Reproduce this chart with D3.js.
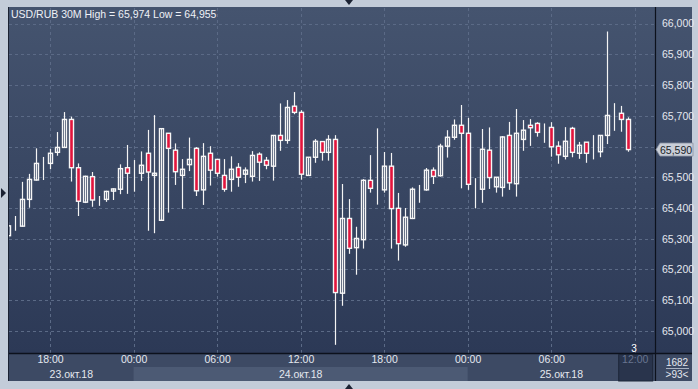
<!DOCTYPE html>
<html>
<head>
<meta charset="utf-8">
<script src="https://cdnjs.cloudflare.com/ajax/libs/d3/7.8.5/d3.min.js"></script>
<style>
  html, body { margin: 0; padding: 0; background: #c3ccd9; }
  svg { display: block; font-family: "Liberation Sans", Arial, sans-serif; }
</style>
</head>
<body>
<svg id="chart" width="698" height="389"></svg>
<script>
// USD/RUB 30M candles, 23.10.2018 15:00 .. 25.10.2018 11:30
const opens = [
  65.310, 65.347, 65.341, 65.428, 65.491, 65.545, 65.545, 65.581, 65.597, 65.688,
  65.531, 65.419, 65.502, 65.428, 65.428, 65.455, 65.461, 65.531, 65.525, 65.513,
  65.578, 65.506, 65.360, 65.643, 65.588, 65.506, 65.541, 65.594, 65.459, 65.578,
  65.558, 65.506, 65.493, 65.532, 65.510, 65.503, 65.575, 65.555, 65.536, 65.636,
  65.620, 65.731, 65.711, 65.506, 65.565, 65.616, 65.581, 65.623, 65.123, 65.366,
  65.271, 65.297, 65.490, 65.462, 65.459, 65.536, 65.399, 65.280, 65.366, 65.461,
  65.459, 65.523, 65.505, 65.601, 65.630, 65.669, 65.643, 65.459, 65.461, 65.588,
  65.469, 65.467, 65.636, 65.479, 65.623, 65.669, 65.675, 65.663, 65.662, 65.601,
  65.568, 65.659, 65.578, 65.614, 65.581, 65.583, 65.636, 65.705, 65.708, 65.688
];
const highs = [
  65.354, 65.374, 65.485, 65.511, 65.594, 65.566, 65.592, 65.647, 65.712, 65.697,
  65.545, 65.505, 65.517, 65.439, 65.456, 65.464, 65.542, 65.605, 65.556, 65.584,
  65.654, 65.702, 65.660, 65.643, 65.610, 65.559, 65.629, 65.598, 65.611, 65.601,
  65.558, 65.559, 65.568, 65.546, 65.532, 65.585, 65.581, 65.566, 65.636, 65.740,
  65.751, 65.777, 65.718, 65.565, 65.624, 65.616, 65.637, 65.637, 65.478, 65.429,
  65.339, 65.494, 65.572, 65.659, 65.582, 65.579, 65.449, 65.400, 65.467, 65.475,
  65.530, 65.532, 65.609, 65.653, 65.688, 65.735, 65.693, 65.497, 65.657, 65.662,
  65.500, 65.634, 65.680, 65.722, 65.686, 65.689, 65.679, 65.675, 65.679, 65.617,
  65.663, 65.664, 65.615, 65.614, 65.637, 65.636, 65.974, 65.741, 65.732, 65.695
];
const lows = [
  65.302, 65.326, 65.339, 65.401, 65.489, 65.491, 65.526, 65.570, 65.597, 65.486,
  65.374, 65.416, 65.404, 65.407, 65.420, 65.426, 65.445, 65.446, 65.453, 65.488,
  65.326, 65.318, 65.358, 65.385, 65.475, 65.397, 65.520, 65.439, 65.410, 65.473,
  65.502, 65.453, 65.453, 65.469, 65.481, 65.486, 65.488, 65.526, 65.489, 65.586,
  65.609, 65.705, 65.492, 65.506, 65.547, 65.554, 65.554, 64.955, 65.082, 65.251,
  65.183, 65.268, 65.450, 65.411, 65.450, 65.268, 65.229, 65.274, 65.364, 65.417,
  65.456, 65.478, 65.502, 65.564, 65.622, 65.464, 65.459, 65.399, 65.417, 65.462,
  65.450, 65.437, 65.459, 65.437, 65.586, 65.602, 65.632, 65.612, 65.567, 65.544,
  65.558, 65.565, 65.560, 65.547, 65.558, 65.565, 65.608, 65.651, 65.648, 65.583
];
const closes = [
  65.342, 65.347, 65.428, 65.493, 65.545, 65.545, 65.578, 65.597, 65.688, 65.531,
  65.422, 65.503, 65.426, 65.428, 65.454, 65.462, 65.528, 65.513, 65.525, 65.539,
  65.517, 65.513, 65.658, 65.594, 65.518, 65.526, 65.558, 65.456, 65.568, 65.523,
  65.513, 65.461, 65.526, 65.500, 65.523, 65.571, 65.549, 65.539, 65.636, 65.620,
  65.727, 65.711, 65.510, 65.565, 65.617, 65.581, 65.623, 65.125, 65.366, 65.269,
  65.301, 65.490, 65.464, 65.462, 65.536, 65.398, 65.284, 65.370, 65.461, 65.461,
  65.523, 65.503, 65.601, 65.630, 65.669, 65.643, 65.477, 65.459, 65.591, 65.499,
  65.500, 65.631, 65.482, 65.643, 65.653, 65.661, 65.646, 65.663, 65.599, 65.573,
  65.617, 65.581, 65.604, 65.578, 65.581, 65.636, 65.701, 65.705, 65.688, 65.590
];

const priceTicks = [65.0, 65.1, 65.2, 65.3, 65.4, 65.5, 65.6, 65.7, 65.8, 65.9, 66.0];
const dayLabels = ["23.окт.18", "24.окт.18", "25.окт.18"];
const lastPrice = 65.590;
const titleText = "USD/RUB 30M  High = 65,974 Low = 64,955";
const cornerTop = "1682";
const cornerBottom = ">93<";

const firstBar = new Date(2018, 9, 23, 15, 0);
const lastTick = new Date(2018, 9, 25, 12, 0);
const barTimes = opens.map((d, i) => d3.timeMinute.offset(firstBar, 30 * i));

// layout
const plot = { left: 9, top: 8, right: 655, bottom: 353 };
const outer = { left: 8, top: 7, right: 692, bottom: 381 };

const x = d3.scaleTime().domain([firstBar, lastTick]).range([8.3, 634.7]);
const y = d3.scaleLinear().domain([65.0, 66.0]).range([331, 23.5]);

const ruLocale = d3.formatLocale({ decimal: ",", thousands: " ", grouping: [3], currency: ["", ""] });
const fmtPrice = ruLocale.format(".3f");
const fmtTime = d3.timeFormat("%H:%M");

const svg = d3.select("#chart");
const defs = svg.append("defs");

const grad = defs.append("linearGradient")
    .attr("id", "bg").attr("x1", 0).attr("y1", 0).attr("x2", 0).attr("y2", 1);
grad.append("stop").attr("offset", "0%").attr("stop-color", "#45546f");
grad.append("stop").attr("offset", "100%").attr("stop-color", "#2c3956");

defs.append("clipPath").attr("id", "plotClip")
    .append("rect")
    .attr("x", plot.left).attr("y", plot.top)
    .attr("width", plot.right - plot.left).attr("height", plot.bottom - plot.top);

// outer frame
svg.append("rect").attr("width", 698).attr("height", 389).attr("fill", "#c3ccd9");
svg.append("rect")
    .attr("x", outer.left).attr("y", outer.top)
    .attr("width", outer.right - outer.left).attr("height", plot.bottom - outer.top)
    .attr("fill", "url(#bg)");

// bottom axis background
svg.append("rect")
    .attr("x", outer.left).attr("y", plot.bottom)
    .attr("width", outer.right - outer.left).attr("height", outer.bottom - plot.bottom)
    .attr("fill", "#3d4a64");

// lighter band behind the middle day
const dayStart = d3.timeDay.offset(d3.timeDay.floor(firstBar), 1);
const dayEnd = d3.timeDay.offset(dayStart, 1);
svg.append("rect")
    .attr("x", x(dayStart)).attr("y", 367)
    .attr("width", x(dayEnd) - x(dayStart)).attr("height", outer.bottom - 367)
    .attr("fill", "#4c5a74");

// grid
const grid = svg.append("g").attr("stroke", "#5b6a86").attr("stroke-dasharray", "3,3").attr("stroke-width", 1);
grid.selectAll("line.h")
    .data(priceTicks)
    .join("line")
    .attr("x1", plot.left).attr("x2", plot.right)
    .attr("y1", (d) => Math.round(y(d)) + 0.5).attr("y2", (d) => Math.round(y(d)) + 0.5);

const timeTicks = x.ticks(d3.timeHour.every(6)).filter((t) => t >= firstBar && t <= lastTick);
grid.selectAll("line.v")
    .data(timeTicks)
    .join("line")
    .attr("x1", (d) => Math.round(x(d)) + 0.5).attr("x2", (d) => Math.round(x(d)) + 0.5)
    .attr("y1", plot.top).attr("y2", plot.bottom);

// candles
const candles = svg.append("g").attr("clip-path", "url(#plotClip)");
const bars = d3.range(opens.length);

candles.selectAll("line.wick")
    .data(bars)
    .join("line")
    .attr("class", "wick")
    .attr("x1", (i) => Math.round(x(barTimes[i])) + 0.5)
    .attr("x2", (i) => Math.round(x(barTimes[i])) + 0.5)
    .attr("y1", (i) => y(highs[i]))
    .attr("y2", (i) => y(lows[i]))
    .attr("stroke", "#f4f4f4")
    .attr("stroke-width", 1.2);

candles.selectAll("rect.body")
    .data(bars)
    .join("rect")
    .attr("class", "body")
    .attr("x", (i) => Math.round(x(barTimes[i])) - 1.5)
    .attr("y", (i) => y(Math.max(opens[i], closes[i])))
    .attr("width", 4)
    .attr("height", (i) => Math.abs(y(opens[i]) - y(closes[i])))
    .attr("fill", (i) => (closes[i] < opens[i] ? "#e3143c" : "none"))
    .attr("stroke", "#f6f6f6")
    .attr("stroke-width", 1.4);

// separators
svg.append("line")
    .attr("x1", plot.right + 0.5).attr("x2", plot.right + 0.5)
    .attr("y1", outer.top).attr("y2", outer.bottom)
    .attr("stroke", "#0c111c").attr("stroke-width", 1.2);
svg.append("line")
    .attr("x1", outer.left).attr("x2", outer.right)
    .attr("y1", plot.bottom + 0.5).attr("y2", plot.bottom + 0.5)
    .attr("stroke", "#0c111c").attr("stroke-width", 1.4);
svg.append("line")
    .attr("x1", outer.left + 0.5).attr("x2", outer.left + 0.5)
    .attr("y1", outer.top).attr("y2", outer.bottom)
    .attr("stroke", "#1b2233");

// right price axis (the tick next to the last price is hidden by its marker)
const shownTicks = priceTicks.filter((t) => Math.abs(y(t) - y(lastPrice)) > 10);
const yAxis = svg.append("g")
    .attr("transform", "translate(" + (plot.right + 1) + ",0)")
    .call(d3.axisRight(y).tickValues(shownTicks).tickSize(0).tickPadding(6).tickFormat(fmtPrice));
yAxis.select(".domain").remove();
yAxis.selectAll("text")
    .attr("fill", "#e4e8ef")
    .attr("font-size", "10.5px")
    .attr("font-family", "Liberation Sans, Arial, sans-serif");

// last price marker
const lp = y(lastPrice);
svg.append("path")
    .attr("d", "M" + (plot.right + 1) + "," + lp +
        " L" + (plot.right + 5) + "," + (lp - 6.5) +
        " L693," + (lp - 6.5) + " L693," + (lp + 6.5) +
        " L" + (plot.right + 5) + "," + (lp + 6.5) + " Z")
    .attr("fill", "#c9ced8").attr("stroke", "#8a93a3").attr("stroke-width", 0.8);
svg.append("text")
    .attr("x", plot.right + 5).attr("y", lp + 4)
    .attr("font-size", "10.5px").attr("fill", "#1a1f2a")
    .text(fmtPrice(lastPrice));

// bottom time axis
svg.append("rect")
    .attr("x", x(lastTick) - 16).attr("y", plot.bottom + 1.5)
    .attr("width", 34).attr("height", outer.bottom - plot.bottom - 1.5)
    .attr("fill", "#29344c").attr("stroke", "#1d2638");

const xAxis = svg.append("g")
    .attr("transform", "translate(0," + (plot.bottom + 3) + ")")
    .call(d3.axisBottom(x).tickValues(timeTicks).tickSize(0).tickPadding(0).tickFormat(fmtTime));
xAxis.select(".domain").remove();
xAxis.selectAll("text")
    .attr("fill", (d) => (+d === +lastTick ? "#687590" : "#e4e8ef"))
    .attr("font-size", "10.5px")
    .attr("font-family", "Liberation Sans, Arial, sans-serif");

// date labels, centred in each visible day
const dayBounds = [
  [x.invert(plot.left), dayStart],
  [dayStart, dayEnd],
  [dayEnd, x.invert(plot.right)]
];
svg.selectAll("text.day")
    .data(dayLabels)
    .join("text")
    .attr("class", "day")
    .attr("x", (d, i) => (x(dayBounds[i][0]) + x(dayBounds[i][1])) / 2)
    .attr("y", 378)
    .attr("text-anchor", "middle")
    .attr("font-size", "10.5px")
    .attr("fill", "#e4e8ef")
    .text((d) => d);

// corner box
svg.append("text").attr("x", 677).attr("y", 366).attr("text-anchor", "middle")
    .attr("font-size", "10px").attr("fill", "#e4e8ef").text(cornerTop);
svg.append("line").attr("x1", 666).attr("x2", 689).attr("y1", 368.5).attr("y2", 368.5)
    .attr("stroke", "#aab3c2");
svg.append("text").attr("x", 677).attr("y", 378).attr("text-anchor", "middle")
    .attr("font-size", "10px").attr("fill", "#e4e8ef").text(cornerBottom);

// small bar counter
svg.append("text").attr("x", 634).attr("y", 352).attr("text-anchor", "middle")
    .attr("font-size", "10px").attr("fill", "#ffffff").text("3");

// title
svg.append("text")
    .attr("x", 11).attr("y", 18)
    .attr("font-size", "10.5px").attr("fill", "#eef1f6")
    .text(titleText);

// frame arrows
svg.append("path").attr("d", "M1,188 L6,193 L1,198 Z").attr("fill", "#1b2233");
svg.append("path").attr("d", "M345,0 L353,0 L349,5 Z").attr("fill", "#1b2233");
svg.append("path").attr("d", "M345,389 L353,389 L349,384 Z").attr("fill", "#1b2233");
</script>
</body>
</html>
